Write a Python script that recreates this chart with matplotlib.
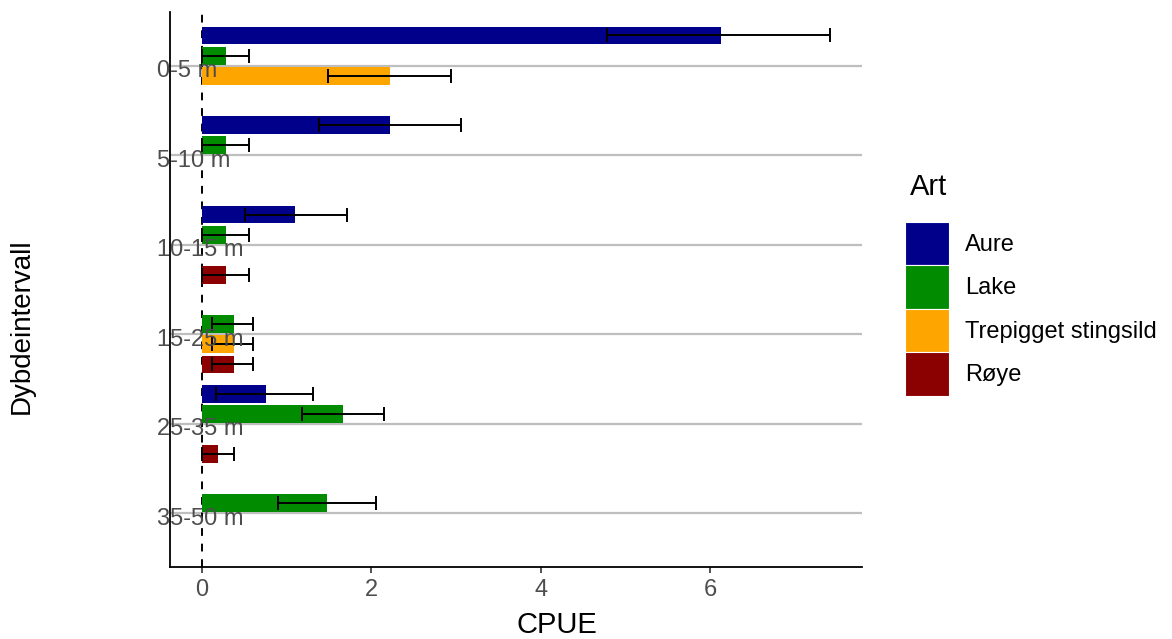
import numpy as np
import matplotlib
matplotlib.use("Agg")
import matplotlib.pyplot as plt
from matplotlib.patches import Patch

plt.rcParams['font.family'] = ['Liberation Sans', 'DejaVu Sans']

# Dybdeintervall og arter
dybder = ["0-5 m", "5-10 m", "10-15 m", "15-25 m", "25-35 m", "35-50 m"]
arter = ["Aure", "Lake", "Trepigget stingsild", "Røye"]
farger = ["#00008B", "#008B00", "#FFA500", "#8B0000"]

# CPUE per art (nan = ingen fangst)
aure = [6.12, 2.22, 1.10, np.nan, 0.76, np.nan]
lake = [0.28, 0.28, 0.28, 0.38, 1.66, 1.47]
stingsild = [2.22, np.nan, np.nan, 0.38, np.nan, np.nan]
roye = [np.nan, np.nan, 0.28, 0.38, 0.19, np.nan]

# nedre og øvre grense for feilstolper
aure_lo = [4.78, 1.38, 0.51, np.nan, 0.165, np.nan]
aure_hi = [7.41, 3.06, 1.71, np.nan, 1.31, np.nan]
lake_lo = [0.0, 0.0, 0.0, 0.12, 1.18, 0.90]
lake_hi = [0.55, 0.55, 0.55, 0.60, 2.15, 2.05]
stingsild_lo = [1.49, np.nan, np.nan, 0.12, np.nan, np.nan]
stingsild_hi = [2.94, np.nan, np.nan, 0.60, np.nan, np.nan]
roye_lo = [np.nan, np.nan, 0.0, 0.12, 0.0, np.nan]
roye_hi = [np.nan, np.nan, 0.55, 0.60, 0.38, np.nan]

verdier = [aure, lake, stingsild, roye]
nedre = [aure_lo, lake_lo, stingsild_lo, roye_lo]
ovre = [aure_hi, lake_hi, stingsild_hi, roye_hi]

fig = plt.figure(figsize=(11.72, 6.39), dpi=100)
ax = fig.add_axes([170/1172, 1 - 567/639, 692/1172, 555/639])

y = np.arange(len(dybder))

# gridlinjer
for yi in y:
    ax.axhline(yi, color="#BEBEBE", linewidth=1.6, zorder=0)
ax.axvline(0, color="black", linestyle=(0, (4, 4)), linewidth=1.4, zorder=1)

dodge = 0.225
for k in range(len(arter)):
    pos = y + (k - 1.5) * dodge
    v = np.array(verdier[k], dtype=float)
    lo = np.array(nedre[k], dtype=float)
    hi = np.array(ovre[k], dtype=float)
    ax.barh(pos, v, height=0.2, color=farger[k], zorder=2, label=arter[k])
    mask = ~np.isnan(v)
    ax.errorbar(v[mask], pos[mask], xerr=[v[mask] - lo[mask], hi[mask] - v[mask]],
                fmt="none", ecolor="black", elinewidth=1.4, capsize=5,
                capthick=1.4, zorder=3)

ax.set_xlim(-0.378, 7.79)
ax.set_ylim(5.6, -0.6)
ax.set_xticks([0, 2, 4, 6])
ax.tick_params(axis="x", labelsize=17, labelcolor="#4D4D4D", length=4,
               width=1.2, color="#333333", pad=5)
ax.set_yticks([])
for yi, lab in zip(y, dybder):
    ax.text(-0.019, yi + 0.06, lab, transform=ax.get_yaxis_transform(),
            ha="left", va="center", fontsize=17, color="#4D4D4D", zorder=5)

for s in ["top", "right"]:
    ax.spines[s].set_visible(False)
for s in ["left", "bottom"]:
    ax.spines[s].set_linewidth(1.3)

ax.set_xlabel("CPUE", fontsize=21)
ax.xaxis.set_label_coords(0.559, -0.08)
ax.set_ylabel("Dybdeintervall", fontsize=20)
ax.yaxis.set_label_coords(-0.195, 0.434)

# legende
handles = [Patch(facecolor=c, edgecolor="white", linewidth=0.8, label=a)
           for c, a in zip(farger, arter)]
leg = fig.legend(handles=handles, loc="upper left",
                 bbox_to_anchor=(905/1172, 1 - 222/639), frameon=False,
                 fontsize=17, handlelength=1.86,
                 handleheight=2.45, labelspacing=0.0, handletextpad=0.68,
                 borderpad=0, borderaxespad=0)
fig.text(910/1172, 1 - 187/639, "Art", fontsize=21, ha="left", va="center")

fig.savefig("out.png", dpi=100)
